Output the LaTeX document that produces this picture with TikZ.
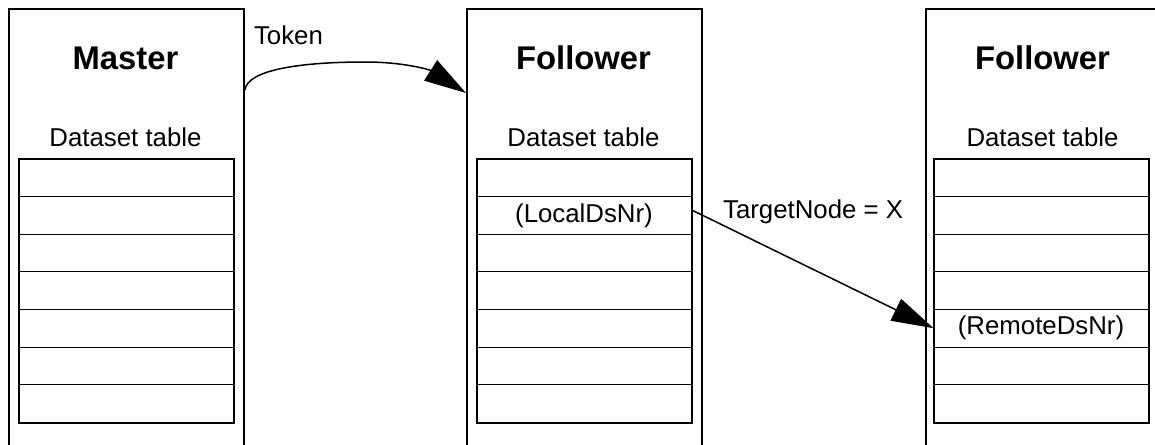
\documentclass[tikz,border=0pt]{standalone}
\usepackage{fontspec}
\setmainfont{Liberation Sans}
\usetikzlibrary{calc,arrows.meta}

\begin{document}
\begin{tikzpicture}[
  x=0.5pt, y=-0.5pt,
  nodebox/.style={draw,line width=1pt,anchor=north west,minimum width=117.5pt,minimum height=240pt,inner sep=0pt},
  headtext/.style={anchor=base,font=\bfseries\fontsize{16.4}{20}\selectfont},
  plaintext/.style={anchor=base,font=\fontsize{12.9}{15}\selectfont},
  row/.style={draw,line width=0.5pt,minimum width=107pt,minimum height=18.8pt,inner sep=0pt},
  link/.style={line width=0.75pt,-{Triangle[length=21pt,width=12pt]}}
]
  \useasboundingbox (0,0) rectangle (1155,444);
  \clip (0,0) rectangle (1155,444);

  % the three nodes, open at the bottom
  \node[nodebox] (master) at (8,8) {};
  \node[nodebox] (folA) at (466,8) {};
  \node[nodebox] (folB) at (925,8) {};

  \node[headtext] (masterHead) at (125.5,70) {Master};
  \node[headtext] (folAHead) at (583.5,70) {Follower};
  \node[headtext] (folBHead) at (1042.5,70) {Follower};

  \node[plaintext] (masterDs) at (125.5,146) {Dataset table};
  \node[plaintext] (folADs) at (583.5,146) {Dataset table};
  \node[plaintext] (folBDs) at (1042.5,146) {Dataset table};

  % dataset tables
  \foreach \tab/\x in {m/19, fa/477, fb/934} {
    \foreach \i in {1,...,7}
      \node[row] (\tab\i) at (\x+107, 159+37.6*\i-18.8) {};
    \draw[line width=1pt] (\tab1.north west) rectangle (\tab7.south east);
  }

  \node[plaintext,anchor=center] (localNr) at (fa2.center) {(LocalDsNr)};
  \node[plaintext,anchor=center] (remoteNr) at (fb5.center) {(RemoteDsNr)};

  % token passing
  \draw[link] ($(master.north east)+(0,82)$) .. controls +(2,-20) and +(-65,0) .. (365,62)
    .. controls +(40,0) and (430,70) .. ($(folA.north west)+(0,85)$);
  \node[plaintext,anchor=base west] (token) at (247,45) {Token};

  % addressed dataset
  \draw[link] ([yshift=2.75pt]fa2.east) -- (fb5.west);
  \node[plaintext,anchor=base west] (target) at (716,218) {TargetNode = X};
\end{tikzpicture}
\end{document}
